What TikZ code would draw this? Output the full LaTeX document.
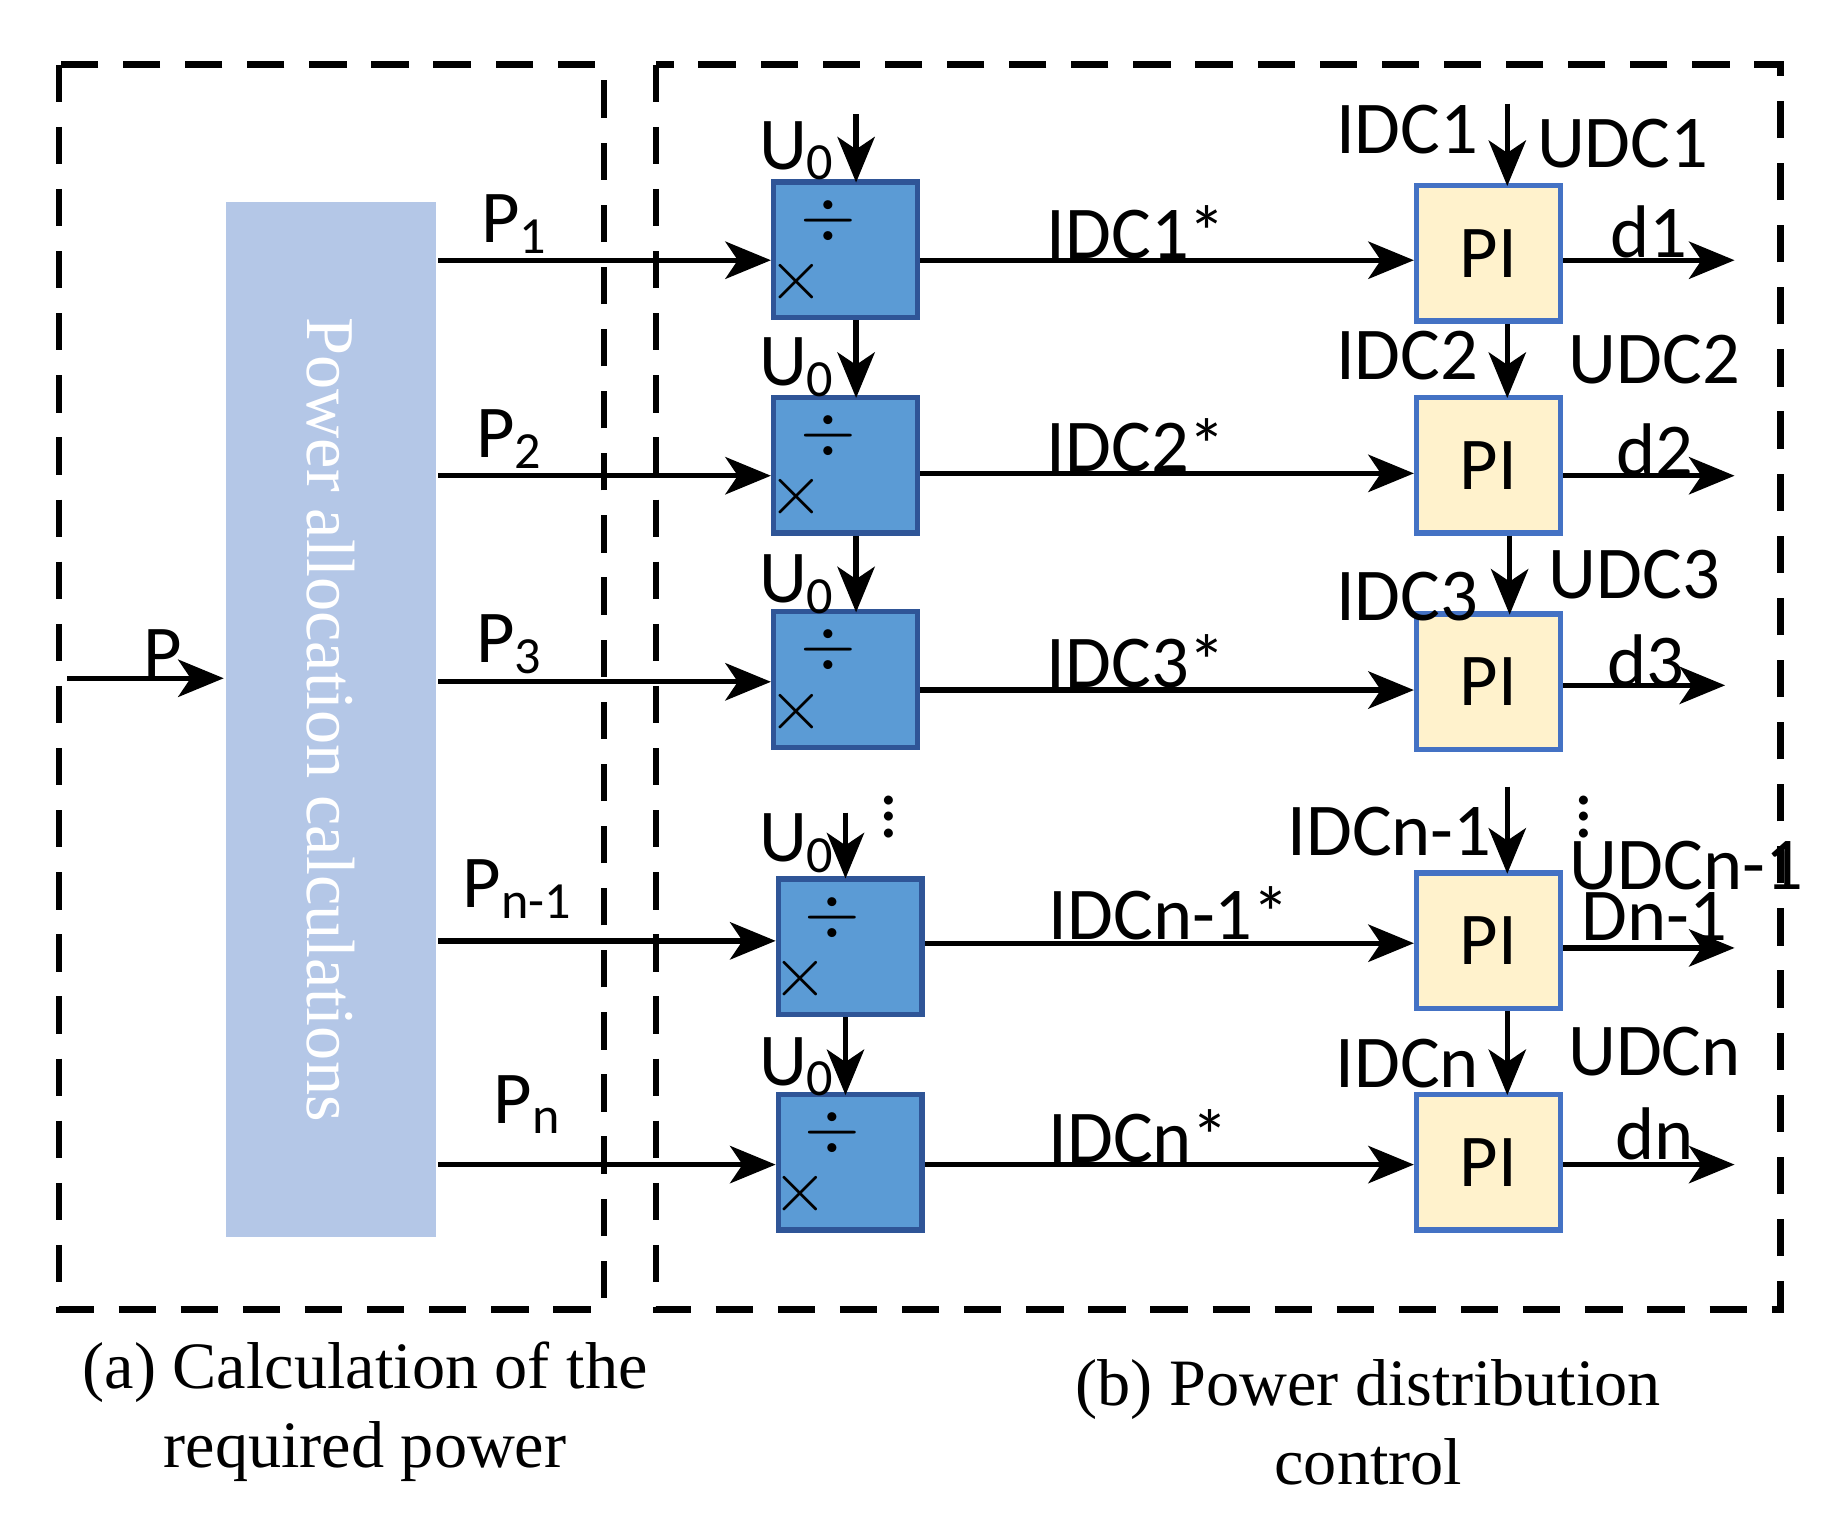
\documentclass[tikz,border=0pt]{standalone}
\usepackage{fontspec}
\setmainfont{Liberation Serif}
\newfontfamily\lab{Carlito}
\usetikzlibrary{arrows.meta}
\definecolor{bfill}{HTML}{5B9BD5}
\definecolor{bdraw}{HTML}{2F5597}
\definecolor{pfill}{HTML}{FFF2CC}
\definecolor{pdraw}{HTML}{4472C4}
\definecolor{lav}{HTML}{B4C7E7}
\begin{document}
\begin{tikzpicture}[x=0.01cm,y=-0.01cm,
 arr/.style={line width=1.3pt,-{Stealth[length=11pt,width=9pt,inset=3pt]}},
 dbox/.style={line width=1.6pt,dash pattern=on 9pt off 6pt},
 div/.style={draw=bdraw,fill=bfill,line width=1.3pt,minimum width=1.22cm,minimum height=1.15cm,inner sep=0},
 pi/.style={draw=pdraw,fill=pfill,line width=1.3pt,minimum width=1.22cm,minimum height=1.15cm,inner sep=0,font=\lab\fontsize{18}{20}\selectfont},
 lb/.style={font=\lab\fontsize{18}{20}\selectfont,inner sep=0},
 capt/.style={font=\fontsize{16}{19}\selectfont,align=center,inner sep=0}]
\useasboundingbox (0,0) rectangle (1560,1307);
\draw[dbox] (50,55) rectangle (513,1112);
\draw[dbox] (557,55) rectangle (1512,1112);
\node[fill=lav,minimum width=1.78cm,minimum height=8.78cm,inner sep=0] (pac) at (281,611) {};
\node[rotate=-90,text=white,font=\fontsize{16.5}{18}\selectfont] at (281,611) {Power allocation calculations};
\coordinate (pin) at (57,576);
\draw[arr] (pin) -- (190,576);
\node[lb] at (138,555) {P};
% rows
\foreach \i/\dx/\dy/\py/\pcy/\ay/\oy/\oe in {1/718/212/221/215/221/221/1473,2/718/395/404/395/402/404/1473,3/718/577/579/579/586/582/1465,4/722/804/799/799/801/805/1473,5/722/987/989/987/989/989/1473}{
 \node[div] (d\i) at (\dx,\dy) {};
 \node[lb,font=\lab\fontsize{17}{20}\selectfont] at (\dx-15,\dy-25) {$\div$};
 \node[lb,font=\lab\fontsize{17}{20}\selectfont] at (\dx-42,\dy+27) {$\times$};
 \node[pi] (p\i) at (1264,\pcy) {PI};
 \coordinate (ps\i) at (372,\py);
 \draw[arr] (ps\i) -- (d\i.west |- 0,\py);
 \draw[arr] (d\i.east |- 0,\ay) -- (p\i.west |- 0,\ay);
 \coordinate (oe\i) at (\oe,\oy);
 \draw[arr] (p\i.east |- 0,\oy) -- (oe\i);
}
% U0 arrows
\coordinate (u0) at (727,97);
\draw[arr] (u0) -- (727,155);
\draw[arr] (d1.south -| 727,0) -- (727,338);
\draw[arr] (d2.south -| 727,0) -- (727,520);
\coordinate (u4) at (718,690);
\draw[arr] (u4) -- (718,746);
\draw[arr] (d4.south -| 718,0) -- (718,930);
\foreach \y in {128,312,496,716,906}{\node[lb] at (677,\y) {U\textsubscript{0}};}
\node[lb] at (755,683) {$\vdots$};
% PI input arrows
\coordinate (i1) at (1280,88);
\draw[arr] (i1) -- (1280,158);
\draw[arr] (p1.south -| 1280,0) -- (1280,338);
\draw[arr] (p2.south -| 1282,0) -- (1282,522);
\coordinate (i4) at (1280,668);
\draw[arr] (i4) -- (1280,742);
\draw[arr] (p4.south -| 1280,0) -- (1280,930);
\node[lb] at (1345,683) {$\vdots$};
% labels
\node[lb] at (437,190) {P\textsubscript{1}};
\node[lb] at (433,373) {P\textsubscript{2}};
\node[lb] at (433,547) {P\textsubscript{3}};
\node[lb] at (440,755) {P\textsubscript{n-1}};
\node[lb] at (448,938) {P\textsubscript{n}};
\node[lb] at (965,197) {IDC1*};
\node[lb] at (965,378) {IDC2*};
\node[lb] at (965,562) {IDC3*};
\node[lb] at (993,776) {IDCn-1*};
\node[lb] at (967,965) {IDCn*};
\node[lb] at (1195,110) {IDC1};
\node[lb] at (1378,122) {UDC1};
\node[lb] at (1195,302) {IDC2};
\node[lb] at (1405,305) {UDC2};
\node[lb] at (1388,488) {UDC3};
\node[lb] at (1195,507) {IDC3};
\node[lb] at (1180,706) {IDCn-1};
\node[lb] at (1432,735) {UDCn-1};
\node[lb] at (1195,903) {IDCn};
\node[lb] at (1405,893) {UDCn};
\node[lb] at (1400,197) {d1};
\node[lb] at (1405,382) {d2};
\node[lb] at (1398,561) {d3};
\node[lb] at (1405,778) {Dn-1};
\node[lb] at (1405,963) {dn};
\node[capt] at (310,1199) {(a) Calculation of the\\required power};
\node[capt] at (1162,1208) {(b) Power distribution\\control};
\end{tikzpicture}
\end{document}
